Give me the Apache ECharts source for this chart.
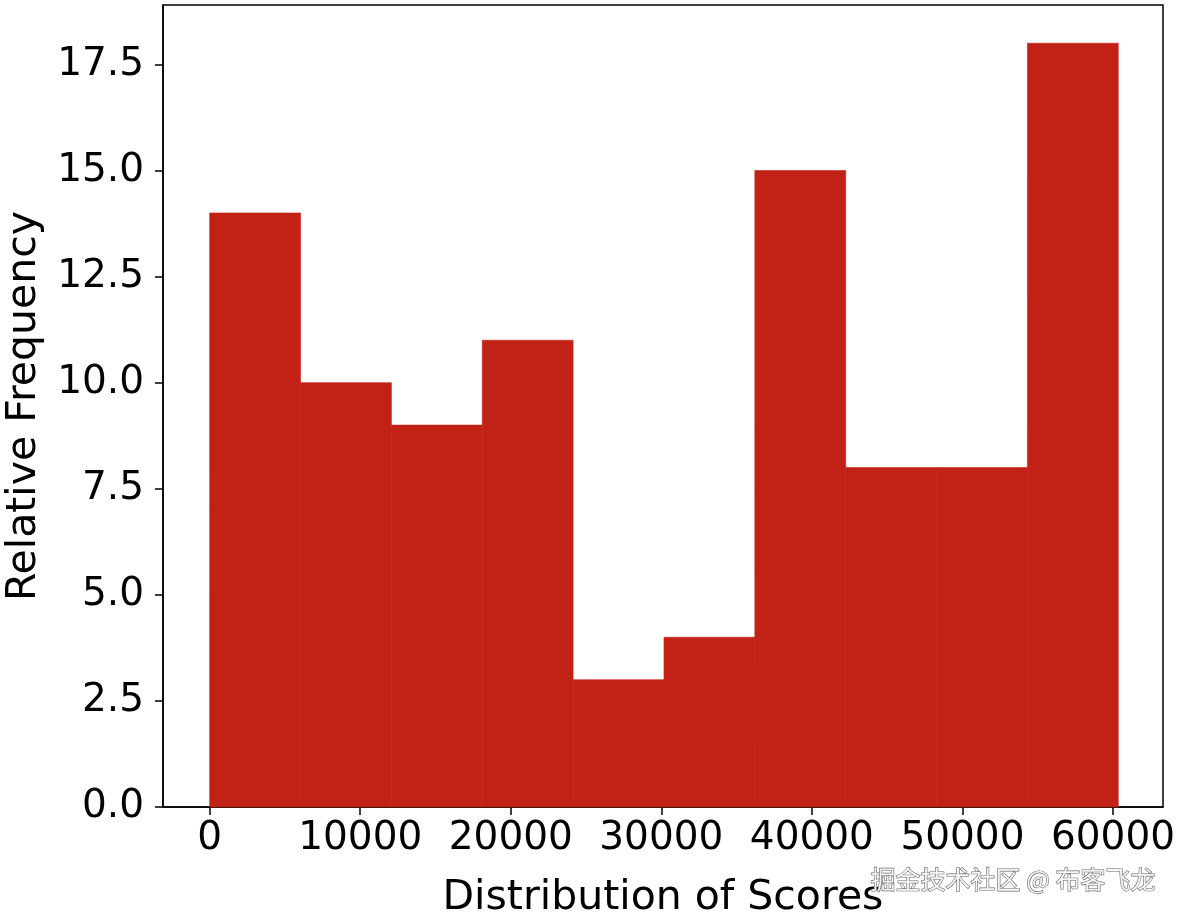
<!DOCTYPE html>
<html>
<head>
<meta charset="utf-8">
<script src="https://cdn.jsdelivr.net/npm/echarts@6/dist/echarts.min.js"></script>
<style>html,body{margin:0;padding:0;background:#fff}#c{width:1181px;height:918px}</style>
</head>
<body>
<div id="c"></div>
<script>
var binEdges = [0, 6035, 12070, 18105, 24140, 30175, 36210, 42245, 48280, 54315, 60350];
var counts = [14, 10, 9, 11, 3, 4, 15, 8, 8, 18];
var xTicks = [0, 10000, 20000, 30000, 40000, 50000, 60000];
var yTicks = [0, 2.5, 5, 7.5, 10, 12.5, 15, 17.5];
var xTitle = 'Distribution of Scores';
var yTitle = 'Relative Frequency';
var watermark = '掘金技术社区 @ 布客飞龙';

var data = counts.map(function (c, i) { return [binEdges[i], binEdges[i + 1], c]; });
var font = 'DejaVu Sans';
var barColor = '#c22216';

var chart = echarts.init(document.getElementById('c'), null, {renderer: 'canvas'});
chart.setOption({
  animation: false,
  grid: {left: 163, right: 18, top: 5, bottom: 111, show: true, borderColor: '#000', borderWidth: 1.5,
    backgroundColor: 'transparent', containLabel: false, outerBoundsMode: 'none'},
  xAxis: {
    type: 'value',
    min: -3100,
    max: 63320,
    splitLine: {show: false},
    axisLine: {show: true, onZero: false, lineStyle: {color: '#000', width: 1.5}},
    axisTick: {show: true, inside: false, length: 8, lineStyle: {color: '#000', width: 1.5}, customValues: xTicks},
    axisLabel: {customValues: xTicks, color: '#000', fontFamily: font, fontSize: 39, margin: 12,
      formatter: function (v) { return String(v); }},
    name: xTitle, nameLocation: 'middle', nameGap: 71,
    nameTextStyle: {color: '#000', fontFamily: font, fontSize: 41}
  },
  yAxis: {
    type: 'value',
    min: 0, max: 18.9,
    splitLine: {show: false},
    axisLine: {show: true, onZero: false, lineStyle: {color: '#000', width: 1.5}},
    axisTick: {show: true, inside: false, length: 8, lineStyle: {color: '#000', width: 1.5}, customValues: yTicks},
    axisLabel: {customValues: yTicks, color: '#000', fontFamily: font, fontSize: 39, margin: 19,
      formatter: function (v) { return v.toFixed(1); }},
    name: yTitle, nameLocation: 'middle', nameGap: 118, nameRotate: 90,
    nameTextStyle: {color: '#000', fontFamily: font, fontSize: 41}
  },
  series: [{
    type: 'custom',
    data: data,
    encode: {x: [0, 1], y: 2},
    renderItem: function (params, api) {
      var p0 = api.coord([api.value(0), api.value(2)]);
      var p1 = api.coord([api.value(1), 0]);
      return {
        type: 'rect',
        shape: {x: p0[0], y: p0[1], width: p1[0] - p0[0], height: p1[1] - p0[1]},
        style: {fill: barColor, stroke: barColor, lineWidth: 0.6}
      };
    }
  }],
  graphic: [{
    type: 'text', right: 25, top: 866, z: 100,
    style: {text: watermark, fontFamily: 'Noto Sans CJK SC', fontSize: 25, fill: '#f4f4f4',
      stroke: '#666', lineWidth: 1.2}
  }]
});
</script>
</body>
</html>
